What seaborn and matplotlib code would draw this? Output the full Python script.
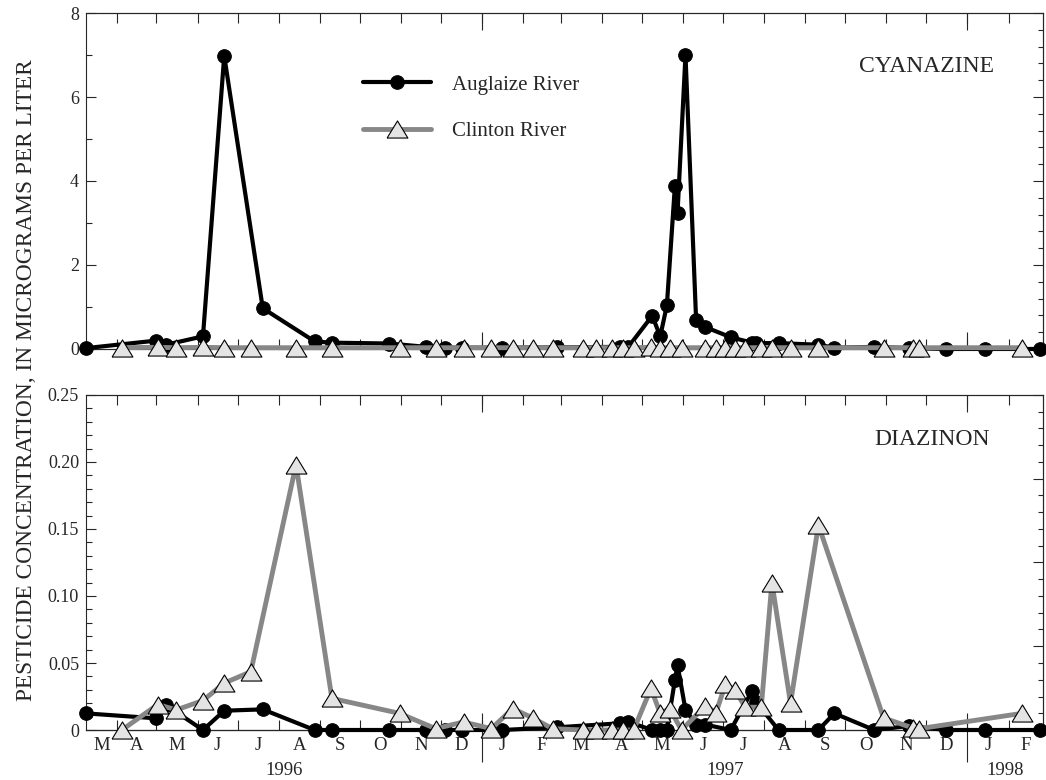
import numpy as np
import pandas as pd
import matplotlib
matplotlib.use("Agg")
import matplotlib.pyplot as plt
import matplotlib.dates as mdates
from matplotlib.ticker import MultipleLocator, FixedLocator, FixedFormatter, NullFormatter, FuncFormatter
import seaborn as sns

# ---------------- data ----------------
auglaize_dates = ['1996-03-09', '1996-05-01', '1996-05-08', '1996-06-05', '1996-06-21', '1996-07-20',
                  '1996-08-28', '1996-09-10', '1996-10-23', '1996-11-20', '1996-12-04', '1996-12-17',
                  '1997-01-16', '1997-02-26', '1997-04-15', '1997-04-21', '1997-05-09', '1997-05-15',
                  '1997-05-20', '1997-05-26', '1997-05-28', '1997-06-03', '1997-06-11', '1997-06-18',
                  '1997-07-07', '1997-07-23', '1997-07-26', '1997-08-12', '1997-09-11', '1997-09-23',
                  '1997-10-23', '1997-11-18', '1997-12-16', '1998-01-14', '1998-02-25']
auglaize_cyanazine = [0.02, 0.20, 0.10, 0.30, 6.98, 0.97, 0.18, 0.15, 0.13, 0.05, 0.03, 0.03,
                      0.03, 0.04, 0.05, 0.05, 0.79, 0.30, 1.04, 3.87, 3.23, 7.00, 0.68, 0.52,
                      0.28, 0.15, 0.14, 0.14, 0.10, 0.03, 0.05, 0.02, 0.0, 0.0, 0.0]
auglaize_diazinon = [0.0124, 0.0087, 0.0187, 0.0, 0.0144, 0.0154, 0.0, 0.0, 0.0, 0.0, 0.0, 0.0,
                     0.0, 0.002, 0.005, 0.006, 0.0, 0.0, 0.0, 0.037, 0.0485, 0.015, 0.004, 0.004,
                     0.0, 0.029, 0.021, 0.0, 0.0, 0.0124, 0.0, 0.003, 0.0, 0.0, 0.0]

clinton_dates = ['1996-04-05', '1996-05-02', '1996-05-16', '1996-06-05', '1996-06-21', '1996-07-11',
                 '1996-08-14', '1996-09-10', '1996-10-31', '1996-11-27', '1996-12-18', '1997-01-08',
                 '1997-01-24', '1997-02-08', '1997-02-23', '1997-03-18', '1997-03-28', '1997-04-09',
                 '1997-04-17', '1997-04-25', '1997-05-08', '1997-05-15', '1997-05-22', '1997-05-31',
                 '1997-06-18', '1997-06-26', '1997-07-03', '1997-07-10', '1997-07-18', '1997-07-30',
                 '1997-08-07', '1997-08-21', '1997-09-11', '1997-10-30', '1997-11-21', '1997-11-26',
                 '1998-02-11']
clinton_cyanazine = [0.03, 0.04, 0.03, 0.04, 0.03, 0.03, 0.03, 0.03, 0.03, 0.03, 0.03, 0.03,
                     0.03, 0.03, 0.03, 0.03, 0.03, 0.03, 0.03, 0.03, 0.04, 0.03, 0.03, 0.03,
                     0.03, 0.03, 0.03, 0.03, 0.03, 0.03, 0.03, 0.03, 0.03, 0.03, 0.03, 0.03,
                     0.03]
clinton_diazinon = [0.0, 0.019, 0.015, 0.022, 0.035, 0.0435, 0.198, 0.0236, 0.0124, 0.001, 0.006, 0.001,
                    0.016, 0.009, 0.001, 0.0, 0.0, 0.0, 0.0, 0.0, 0.031, 0.0124, 0.016, 0.0,
                    0.018, 0.013, 0.034, 0.030, 0.017, 0.017, 0.110, 0.020, 0.153, 0.009, 0.0015, 0.001,
                    0.0124]

series_names = ['Auglaize River', 'Clinton River']
panel_titles = ['CYANAZINE', 'DIAZINON']
y_label = 'PESTICIDE CONCENTRATION, IN MICROGRAMS PER LITER'
x_start, x_end = '1996-03-09', '1998-02-27'

# ---------------- style ----------------
sns.set_style("ticks")
plt.rcParams['font.family'] = ['Liberation Serif', 'DejaVu Serif']
plt.rcParams['axes.linewidth'] = 0.8

BLACK = '#000000'
GRAY = '#878787'
TRI_FACE = '#e4e4e4'
tri_marker = [(-1.0, -0.82), (1.0, -0.82), (0.0, 0.82), (-1.0, -0.82)]

fig = plt.figure(figsize=(10.46, 7.80), dpi=100)
ax_top = fig.add_axes([0.0822, 0.5526, 0.9150, 0.4307])
ax_bot = fig.add_axes([0.0822, 0.0641, 0.9150, 0.4295])

df_a = pd.DataFrame({'date': pd.to_datetime(auglaize_dates),
                     'cyan': auglaize_cyanazine, 'diaz': auglaize_diazinon})
df_c = pd.DataFrame({'date': pd.to_datetime(clinton_dates),
                     'cyan': clinton_cyanazine, 'diaz': clinton_diazinon})

for ax, col, lab in [(ax_top, 'cyan', True), (ax_bot, 'diaz', False)]:
    sns.lineplot(data=df_a, x='date', y=col, ax=ax, sort=False, estimator=None,
                 color=BLACK, linewidth=3.0, marker='o', markersize=9.8,
                 markerfacecolor=BLACK, markeredgecolor=BLACK, clip_on=False,
                 label=series_names[0] if lab else None, zorder=3)
    sns.lineplot(data=df_c, x='date', y=col, ax=ax, sort=False, estimator=None,
                 color=GRAY, linewidth=3.5, marker=tri_marker, markersize=15,
                 markerfacecolor=TRI_FACE, markeredgecolor=BLACK, markeredgewidth=0.8,
                 clip_on=False, label=series_names[1] if lab else None, zorder=4)

# ---------------- axes limits & ticks ----------------
xmin = mdates.date2num(pd.Timestamp(x_start))
xmax = mdates.date2num(pd.Timestamp(x_end))
month_starts = pd.date_range('1996-03-01', '1998-03-01', freq='MS')
month_bounds = [mdates.date2num(d) for d in month_starts if xmin < mdates.date2num(d) < xmax]
month_mids, month_labels = [], []
for a, b in zip(month_starts[:-1], month_starts[1:]):
    s = max(mdates.date2num(a), xmin)
    e = min(mdates.date2num(b), xmax)
    if e > s:
        month_mids.append((s + e) / 2)
        month_labels.append(a.strftime('%b')[0])
year_bounds = [mdates.date2num(pd.Timestamp(y)) for y in ['1997-01-01', '1998-01-01']]
year_mids, year_labels = [], []
for y in [1996, 1997, 1998]:
    s = max(mdates.date2num(pd.Timestamp(f'{y}-01-01')), xmin)
    e = min(mdates.date2num(pd.Timestamp(f'{y + 1}-01-01')), xmax)
    year_mids.append((s + e) / 2)
    year_labels.append(str(y))

for i, ax in enumerate([ax_top, ax_bot]):
    ax.set_xlim(xmin, xmax)
    ax.set_xlabel('')
    ax.set_ylabel('')
    for sp in ax.spines.values():
        sp.set_visible(True)
        sp.set_linewidth(0.8)
    ax.xaxis.set_major_locator(FixedLocator(month_mids))
    ax.xaxis.set_minor_locator(FixedLocator(month_bounds))
    ax.xaxis.set_minor_formatter(NullFormatter())
    if i == 1:
        ax.xaxis.set_major_formatter(FixedFormatter(month_labels))
    else:
        ax.xaxis.set_major_formatter(NullFormatter())
    ax.tick_params(axis='x', which='major', length=0, pad=5, labelsize=13.5, top=False, bottom=True)
    ax.tick_params(axis='x', which='minor', direction='in', length=7.5, width=0.8, top=True, bottom=True)
    # longer year-boundary ticks
    for loc in ['top', 'bottom']:
        sec = ax.secondary_xaxis(loc)
        sec.set_xticks(year_bounds)
        sec.xaxis.set_major_formatter(NullFormatter())
        sec.tick_params(axis='x', direction='in', length=12, width=0.8)
        sec.spines[loc].set_linewidth(0.8)
    if i == 1:
        sec = ax.secondary_xaxis('bottom')
        sec.set_xticks(year_bounds)
        sec.xaxis.set_major_formatter(NullFormatter())
        sec.xaxis.set_minor_locator(FixedLocator(year_mids))
        sec.xaxis.set_minor_formatter(FixedFormatter(year_labels))
        sec.tick_params(axis='x', which='major', direction='out', length=23, width=0.8)
        sec.tick_params(axis='x', which='minor', length=0, pad=23, labelsize=13.5)

# y axes
ax_top.set_ylim(0, 8)
ax_top.yaxis.set_major_locator(MultipleLocator(2))
ax_top.yaxis.set_minor_locator(MultipleLocator(1))
ax_top.yaxis.set_major_formatter(FuncFormatter(lambda v, p: f'{v:g}'))
ax_bot.set_ylim(0, 0.25)
ax_bot.yaxis.set_major_locator(MultipleLocator(0.05))
ax_bot.yaxis.set_minor_locator(MultipleLocator(0.01))
ax_bot.yaxis.set_major_formatter(FuncFormatter(lambda v, p: '0' if abs(v) < 1e-9 else f'{v:.2f}'))
for ax, rmaj, rmin in [(ax_top, 2, 0.4), (ax_bot, 0.0625, 0.0125)]:
    ax.tick_params(axis='y', which='major', direction='in', length=7, width=0.8, labelsize=13,
                   left=True, right=False, pad=5)
    ax.tick_params(axis='y', which='minor', direction='in', length=4.5, width=0.8, left=True, right=False)
    sec = ax.secondary_yaxis('right')
    sec.yaxis.set_major_locator(MultipleLocator(rmaj))
    sec.yaxis.set_minor_locator(MultipleLocator(rmin))
    sec.yaxis.set_major_formatter(NullFormatter())
    sec.yaxis.set_minor_formatter(NullFormatter())
    sec.tick_params(axis='y', which='major', direction='in', length=7, width=0.8)
    sec.tick_params(axis='y', which='minor', direction='in', length=3.5, width=0.8)
    sec.spines['right'].set_linewidth(0.8)

# panel titles
ax_top.text(0.878, 0.842, panel_titles[0], transform=ax_top.transAxes, ha='center', va='center', fontsize=17)
ax_bot.text(0.884, 0.866, panel_titles[1], transform=ax_bot.transAxes, ha='center', va='center', fontsize=17)

# legend
ax_top.legend(loc='upper left', bbox_to_anchor=(0.289, 0.815), frameon=False, fontsize=15,
              handlelength=3.3, handletextpad=1.0, labelspacing=1.3, borderpad=0, borderaxespad=0,
              numpoints=1)

fig.text(0.025, 0.513, y_label, rotation=90, ha='center', va='center', fontsize=16.8)

fig.savefig('out.png', dpi=100)
